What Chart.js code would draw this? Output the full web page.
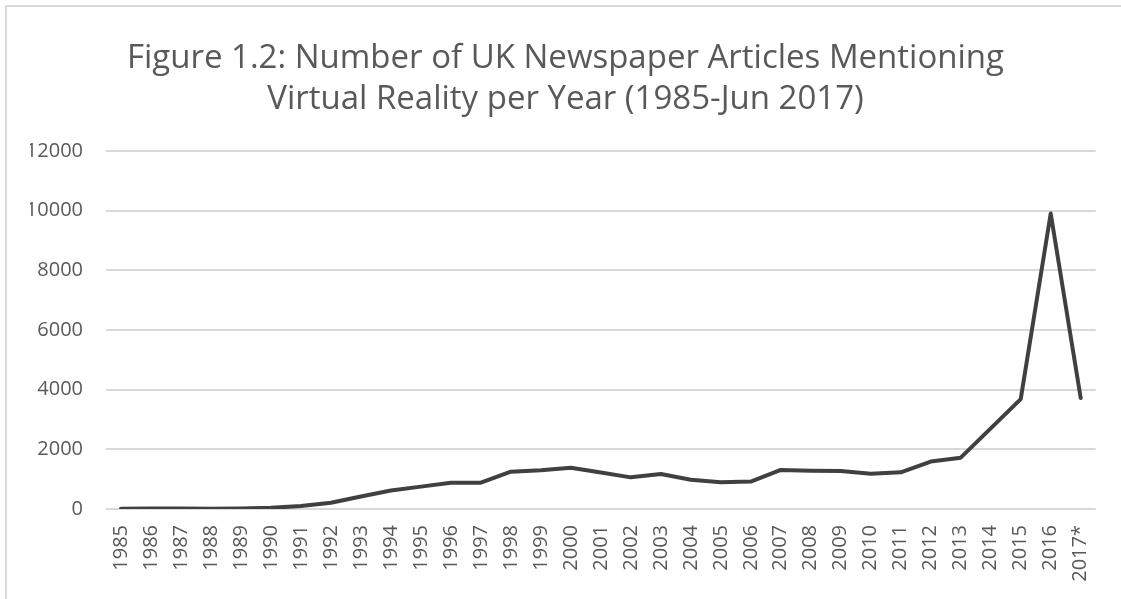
<!DOCTYPE html>
<html lang="en">

<head>
    <meta charset="UTF-8">
    <title>UK Newspaper Articles Mentioning Virtual Reality</title>
    <style>
        html, body {
            margin: 0;
            padding: 0;
            background: #fff;
            overflow: hidden;
        }
        .wrap {
            position: relative;
            width: 1121px;
            height: 599px;
        }
        .frame {
            position: absolute;
            left: 5px;
            top: 5px;
            width: 2000px;
            height: 2000px;
            border-top: 2px solid #d9d9d9;
            border-left: 2px solid #d9d9d9;
        }
    </style>
</head>

<body>
    <div class="wrap">
        <div class="frame"></div>
        <canvas id="vrChart" width="1121" height="599"></canvas>
    </div>
    <script src="https://cdn.jsdelivr.net/npm/chart.js"></script>
    <script>
        const years = [
            '1985', '1986', '1987', '1988', '1989', '1990', '1991', '1992', '1993', '1994',
            '1995', '1996', '1997', '1998', '1999', '2000', '2001', '2002', '2003', '2004',
            '2005', '2006', '2007', '2008', '2009', '2010', '2011', '2012', '2013', '2014',
            '2015', '2016', '2017*'
        ];
        const articles = [
            10, 20, 20, 10, 15, 40, 100, 210, 420, 620,
            750, 880, 880, 1250, 1300, 1380, 1220, 1060, 1170, 980,
            900, 920, 1310, 1280, 1270, 1180, 1230, 1590, 1720, 2700,
            3680, 9900, 3720
        ];
        const titleLines = [
            'Figure 1.2: Number of UK Newspaper Articles Mentioning',
            'Virtual Reality per Year (1985-Jun 2017)'
        ];

        const textGrey = '#595959';

        new Chart(document.getElementById('vrChart'), {
            type: 'line',
            data: {
                labels: years,
                datasets: [{
                    data: articles,
                    borderColor: '#404040',
                    borderWidth: 4,
                    borderCapStyle: 'round',
                    borderJoinStyle: 'round',
                    pointRadius: 0,
                    tension: 0,
                    fill: false
                }]
            },
            options: {
                responsive: false,
                animation: false,
                layout: {
                    padding: { top: 38, right: 20, bottom: 0, left: 30 }
                },
                plugins: {
                    legend: { display: false },
                    tooltip: { enabled: false },
                    title: {
                        display: true,
                        text: titleLines,
                        color: textGrey,
                        font: { family: '"Open Sans", sans-serif', size: 33, weight: 'normal', lineHeight: 1.24 },
                        padding: { top: 0, bottom: 31 }
                    }
                },
                scales: {
                    x: {
                        offset: true,
                        grid: { display: false, drawTicks: false },
                        border: { display: false },
                        ticks: {
                            color: textGrey,
                            font: { family: '"Open Sans", sans-serif', size: 20 },
                            minRotation: 90,
                            maxRotation: 90,
                            autoSkip: false,
                            padding: 16
                        },
                        afterFit: function (axis) { axis.height = 90; }
                    },
                    y: {
                        min: 0,
                        max: 12000,
                        grid: { color: '#d9d9d9', lineWidth: 2, drawTicks: false },
                        border: { display: false },
                        ticks: {
                            stepSize: 2000,
                            color: textGrey,
                            font: { family: '"Open Sans", sans-serif', size: 20 },
                            padding: 23,
                            callback: function (v) { return String(v); }
                        },
                        afterFit: function (axis) { axis.width = 76; }
                    }
                }
            }
        });
    </script>
</body>

</html>
